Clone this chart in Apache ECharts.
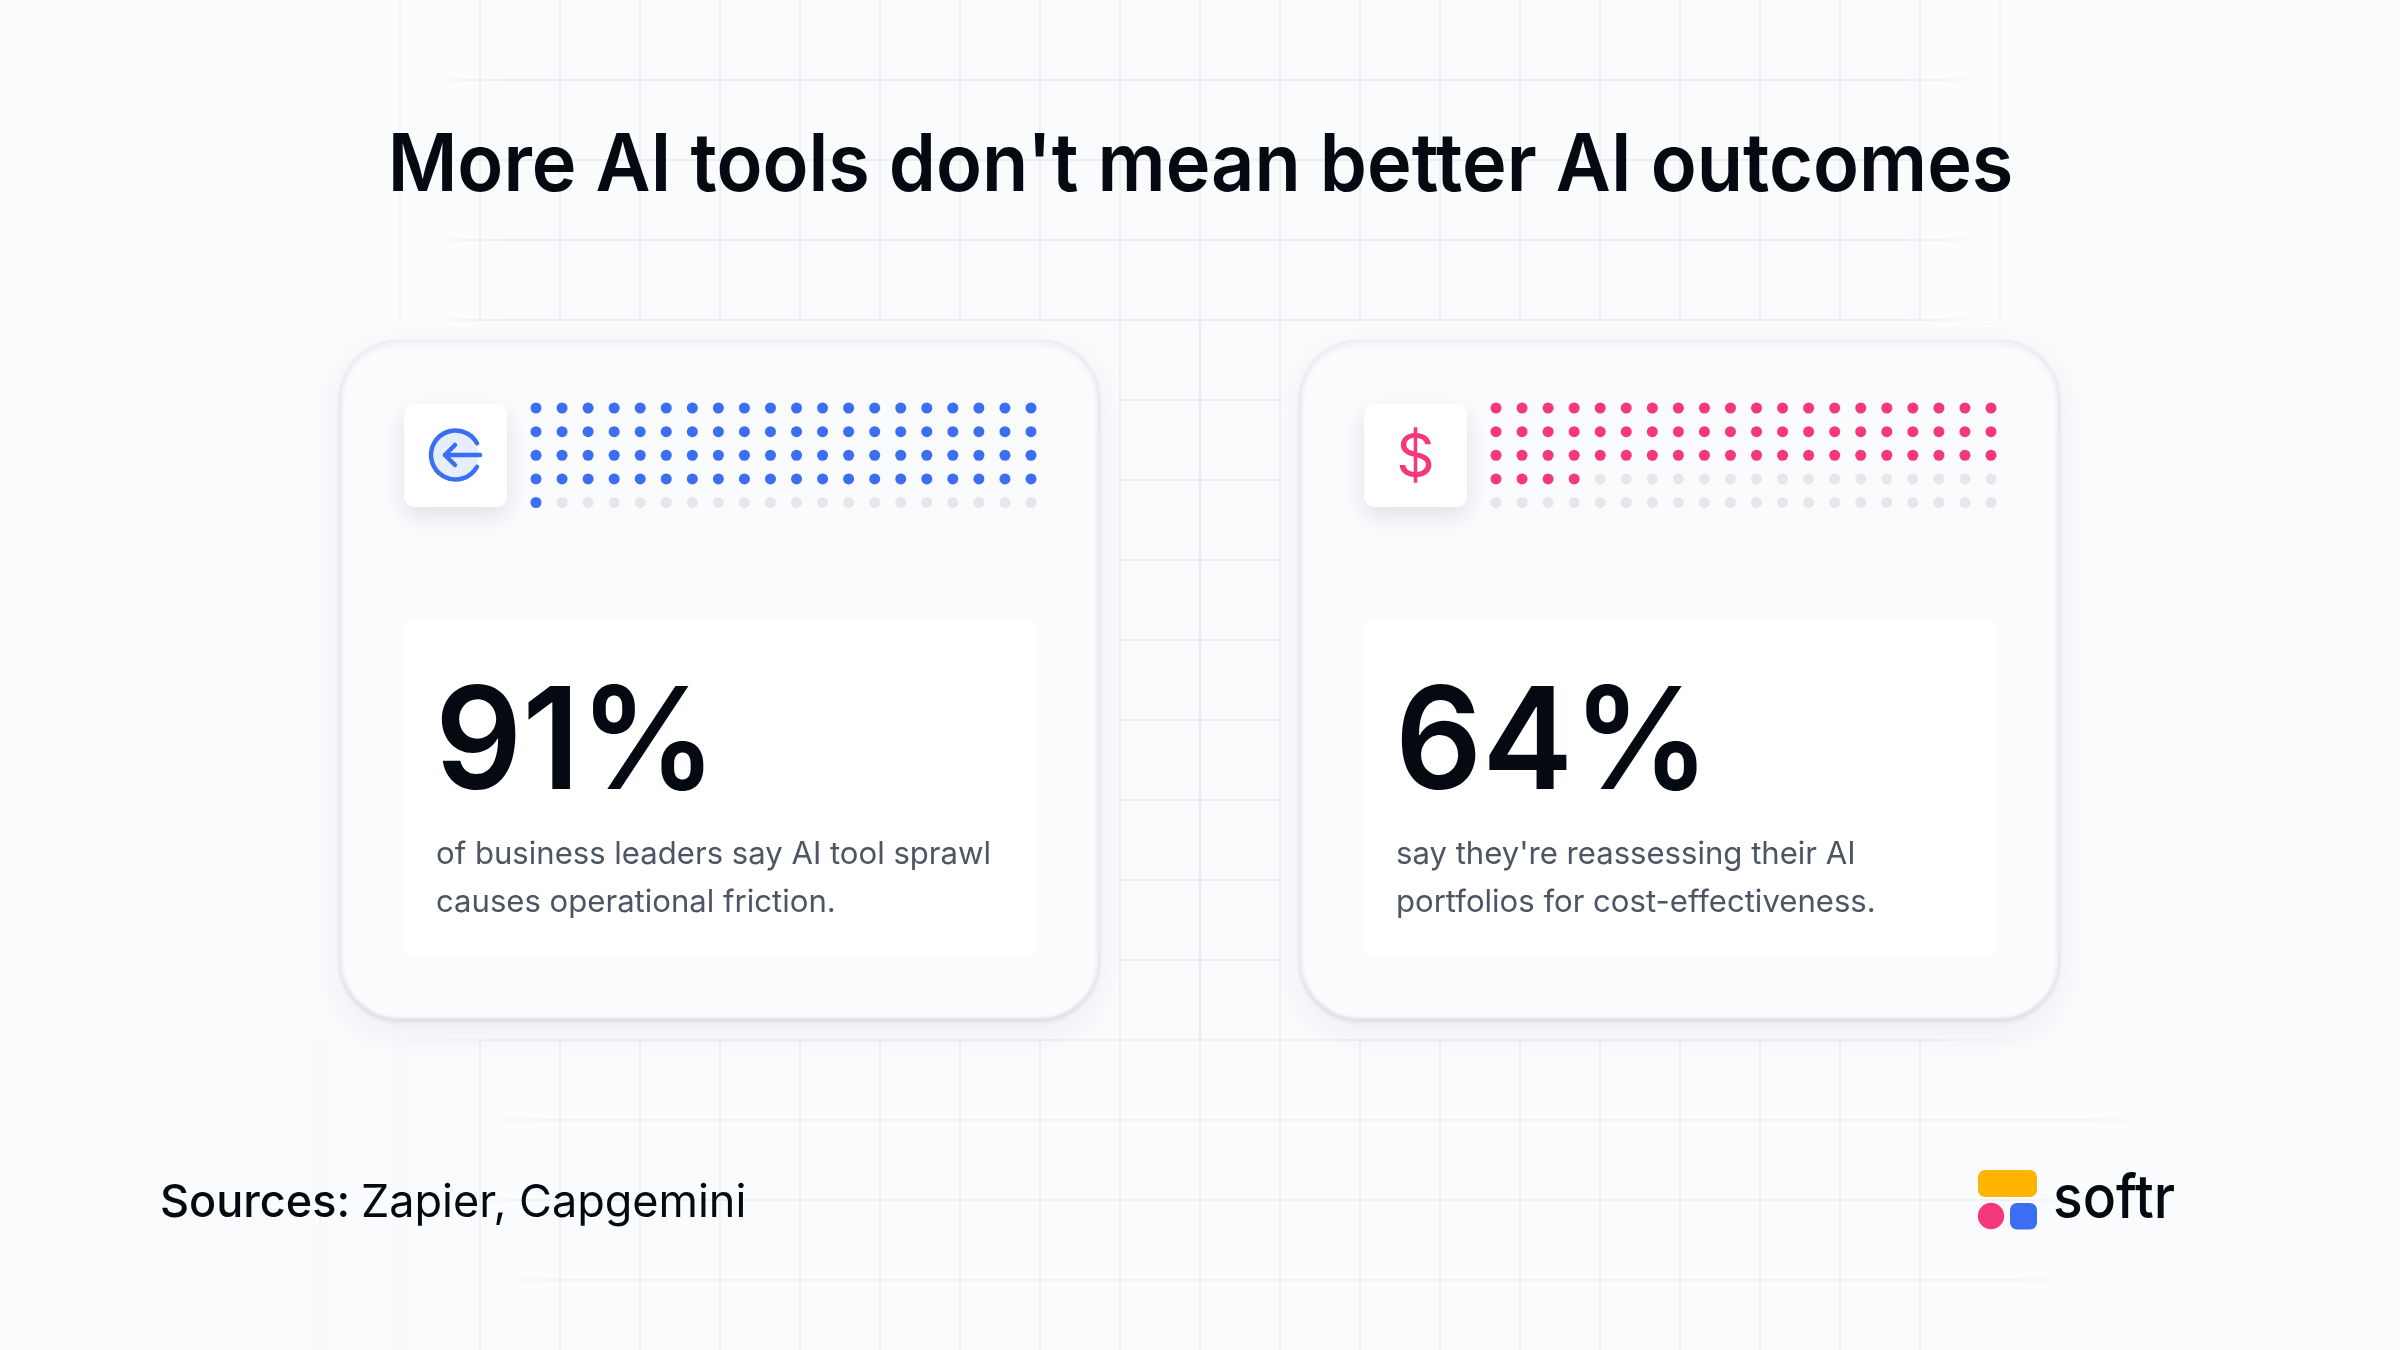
<!DOCTYPE html>
<html>
<head>
<meta charset="utf-8">
<title>More AI tools</title>
<style>
html,body{margin:0;padding:0;background:#fafbfd;}
#main{width:2400px;height:1350px;}
</style>
<script src="https://cdn.jsdelivr.net/npm/echarts@6/dist/echarts.min.js"></script>
</head>
<body>
<div id="main"></div>
<script>
// data
var titleText = "More AI tools don't mean better AI outcomes";
var statLabels = ['91%', '64%'];
var statLines = [
    ['of business leaders say AI tool sprawl', 'causes operational friction.'],
    ["say they're reassessing their AI", 'portfolios for cost-effectiveness.']
];
var filledDots = [81, 64];   // dots drawn in colour, counted on the picture
var dotColumns = 20;
var dotRows = 5;
var dotColors = ['#3b6ef0', '#f4387a'];
var sourceBold = 'Sources:';
var sourceRest = 'Zapier, Capgemini';
var brandName = 'softr';

var BG = '#fafbfd';
var INK = '#050912';
var EMPTY_DOT = '#e5e7eb';
var cardLeft = [341, 1301];

var chart = echarts.init(document.getElementById('main'));

function dotData(filled) {
    var out = [];
    for (var r = 0; r < dotRows; r++) {
        for (var c = 0; c < dotColumns; c++) {
            out.push([c, r, (r * dotColumns + c) < filled ? 1 : 0]);
        }
    }
    return out;
}

// faint background lattice, 80px steps, fades at the ends of each line
function hLine(y, x1, x2, alpha, noFade) {
    var col = 'rgba(226,229,236,' + alpha + ')';
    return {
        type: 'line', z: 0, silent: true,
        shape: {x1: x1, y1: y, x2: x2, y2: y},
        style: {
            lineWidth: 2,
            stroke: noFade ? col : new echarts.graphic.LinearGradient(x1, 0, x2, 0, [
                {offset: 0, color: 'rgba(226,229,236,0)'},
                {offset: 0.07, color: col},
                {offset: 0.93, color: col},
                {offset: 1, color: 'rgba(226,229,236,0)'}
            ], true)
        }
    };
}
function vLine(x, y1, y2, alpha) {
    return {
        type: 'line', z: 0, silent: true,
        shape: {x1: x, y1: y1, x2: x, y2: y2},
        style: {lineWidth: 2, stroke: 'rgba(226,229,236,' + alpha + ')'}
    };
}

var els = [];
var x, y;
// block above the cards
[80, 160, 240, 320].forEach(function (v) { els.push(hLine(v, 400, 2010, 0.6)); });
for (x = 400; x <= 2000; x += 80) {
    els.push(vLine(x, 0, 320, (x === 400 || x === 2000) ? 0.25 : 0.55));
}
// strip between the cards
for (y = 400; y <= 960; y += 80) els.push(hLine(y, 1120, 1280, 0.55, true));
[1120, 1200, 1280].forEach(function (v) { els.push(vLine(v, 320, 1040, v === 1200 ? 0.7 : 0.45)); });
// block below the cards
els.push(hLine(1040, 390, 2040, 0.45));
els.push(hLine(1120, 420, 2210, 0.35));
els.push(hLine(1200, 420, 2120, 0.45));
els.push(hLine(1280, 440, 2130, 0.35));
for (x = 320; x <= 1920; x += 80) {
    els.push(vLine(x, 1040, 1350, x < 480 ? 0.15 : 0.45));
}

// title
els.push({
    type: 'text', z: 3, silent: true, x: 1200.5, y: 167, scaleX: 0.945,
    style: {text: titleText, fill: INK, font: '600 80px Inter', align: 'center', verticalAlign: 'middle'}
});

// cards
cardLeft.forEach(function (left, k) {
    var panelX = left + 63;
    els.push({
        type: 'rect', z: 1, silent: true,
        shape: {x: left, y: 341, width: 757, height: 677, r: 58},
        style: {fill: BG, shadowColor: 'rgba(30,40,70,0.07)', shadowBlur: 34, shadowOffsetY: 12}
    });
    els.push({
        type: 'rect', z: 1, silent: true,
        shape: {x: left, y: 341, width: 757, height: 677, r: 58},
        style: {fill: BG, stroke: '#eceef2', lineWidth: 2, shadowColor: 'rgba(30,40,70,0.10)', shadowBlur: 4, shadowOffsetY: 2}
    });
    // icon tile
    els.push({
        type: 'rect', z: 1, silent: true,
        shape: {x: panelX, y: 404, width: 103, height: 103, r: 10},
        style: {fill: '#fff', shadowColor: 'rgba(30,40,70,0.12)', shadowBlur: 22, shadowOffsetY: 9}
    });
    // white stat panel
    els.push({
        type: 'rect', z: 1, silent: true,
        shape: {x: panelX, y: 618, width: 633, height: 338, r: 10},
        style: {fill: '#fff'}
    });
    els.push({
        type: 'text', z: 3, silent: true, x: panelX + 31, y: 746, scaleX: 0.96,
        style: {text: statLabels[k], fill: INK, font: '600 142px Inter', verticalAlign: 'middle'}
    });
    statLines[k].forEach(function (line, n) {
        els.push({
            type: 'text', z: 3, silent: true, x: panelX + 32, y: 854.5 + n * 48,
            style: {text: line, fill: '#4b5563', font: '400 31.1px Inter', verticalAlign: 'middle'}
        });
    });
});

// login style icon, first card
var blue = dotColors[0];
els.push({type: 'circle', z: 3, silent: true, shape: {cx: 455.5, cy: 455, r: 23}, style: {fill: '#e6edfd'}});
els.push({
    type: 'arc', z: 3, silent: true,
    shape: {cx: 455.5, cy: 455, r: 24.5, startAngle: 0.5, endAngle: Math.PI * 2 - 0.5, clockwise: true},
    style: {fill: null, stroke: blue, lineWidth: 4.5, lineCap: 'round'}
});
els.push({
    type: 'polyline', z: 3, silent: true,
    shape: {points: [[455, 445], [445, 455], [455, 465]]},
    style: {fill: null, stroke: blue, lineWidth: 4.5, lineCap: 'round', lineJoin: 'round'}
});
els.push({
    type: 'line', z: 3, silent: true,
    shape: {x1: 445, y1: 455, x2: 480, y2: 455},
    style: {stroke: blue, lineWidth: 4.5, lineCap: 'round'}
});
// dollar icon, second card
els.push({
    type: 'text', z: 3, silent: true, x: 1415.5, y: 459,
    style: {text: '$', fill: dotColors[1], font: '400 60px Inter', align: 'center', verticalAlign: 'middle'}
});

// source line
els.push({
    type: 'text', z: 3, silent: true, x: 160, y: 1203,
    style: {text: sourceBold, fill: INK, font: '500 45px Inter', verticalAlign: 'middle'}
});
els.push({
    type: 'text', z: 3, silent: true, x: 361, y: 1203,
    style: {text: sourceRest, fill: INK, font: '400 45px Inter', verticalAlign: 'middle'}
});

// logo
els.push({type: 'rect', z: 3, silent: true, shape: {x: 1978, y: 1170, width: 59, height: 27, r: 7}, style: {fill: '#ffb400'}});
els.push({type: 'circle', z: 3, silent: true, shape: {cx: 1991, cy: 1216, r: 13.2}, style: {fill: '#f4387a'}});
els.push({type: 'rect', z: 3, silent: true, shape: {x: 2010, y: 1203, width: 27, height: 26.5, r: 7}, style: {fill: blue}});
els.push({
    type: 'text', z: 3, silent: true, x: 2053, y: 1200, scaleX: 0.92,
    style: {text: brandName, fill: INK, font: '500 60px Inter', verticalAlign: 'middle'}
});

var grids = [], xAxes = [], yAxes = [], series = [];
cardLeft.forEach(function (left, k) {
    grids.push({left: left + 195, top: 408, width: 495, height: 94.5});
    xAxes.push({type: 'value', gridIndex: k, min: 0, max: dotColumns - 1, show: false});
    yAxes.push({type: 'value', gridIndex: k, min: 0, max: dotRows - 1, inverse: true, show: false});
    series.push({
        type: 'scatter', xAxisIndex: k, yAxisIndex: k, clip: false, silent: true,
        symbol: 'circle', symbolSize: 11, z: 2,
        data: dotData(filledDots[k]),
        itemStyle: {
            opacity: 1,
            color: function (p) { return p.value[2] ? dotColors[k] : EMPTY_DOT; }
        }
    });
});

chart.setOption({
    backgroundColor: BG,
    animation: false,
    grid: grids,
    xAxis: xAxes,
    yAxis: yAxes,
    series: series,
    graphic: {elements: els}
});
</script>
</body>
</html>
